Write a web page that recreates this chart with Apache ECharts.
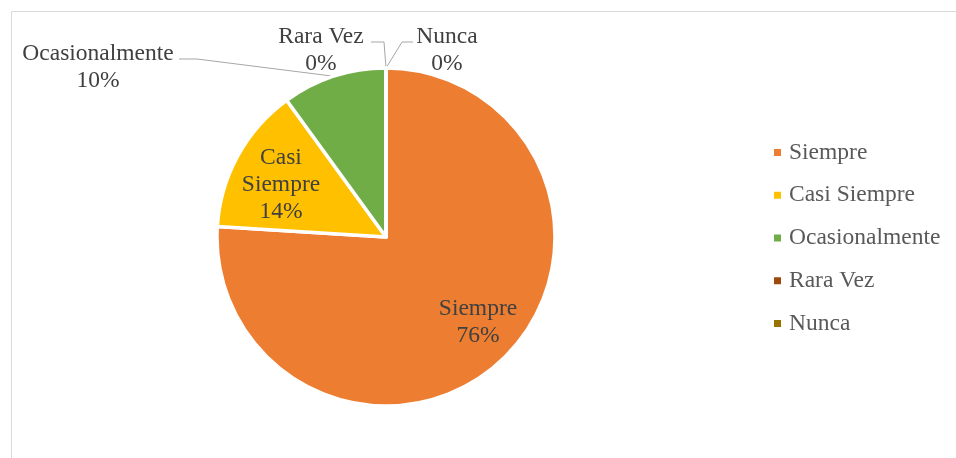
<!DOCTYPE html>
<html>
<head>
<meta charset="utf-8">
<script src="https://cdn.jsdelivr.net/npm/echarts@6/dist/echarts.min.js"></script>
<style>
  html, body { margin: 0; padding: 0; background: #fff; }
  #chart { width: 956px; height: 458px; }
</style>
</head>
<body>
<div id="chart"></div>
<script>
// Datos de la gráfica
const categories = ['Siempre', 'Casi Siempre', 'Ocasionalmente', 'Rara Vez', 'Nunca'];
const percents = [76, 14, 10, 0, 0];
const colors = ['#ED7D31', '#FFC000', '#70AD47', '#9E480E', '#997300'];
const insideLabel = [true, true, false, false, false];

// Posición de las etiquetas (centro del bloque de texto)
const labelPos = {
  'Siempre': [478, 322],
  'Casi Siempre': [281, 185],
  'Ocasionalmente': [98, 67],
  'Rara Vez': [321, 50],
  'Nunca': [447, 50]
};
// Quiebre de las líneas guía de las etiquetas externas
const lineBend = {
  'Ocasionalmente': [[197, 59], [179, 59]],
  'Rara Vez': [[384, 42], [371, 42]],
  'Nunca': [[402, 42], [413, 42]]
};

const font = "'Liberation Serif', 'Times New Roman', serif";
const chart = echarts.init(document.getElementById('chart'));

const option = {
  animation: false,
  // Borde del área del gráfico
  graphic: [{
    type: 'rect',
    shape: { x: 11.5, y: 11.5, width: 1200, height: 1000 },
    style: { fill: 'none', stroke: '#D9D9D9', lineWidth: 1 },
    silent: true
  }],
  legend: {
    data: categories,
    orient: 'vertical',
    left: 774,
    top: 140.5,
    padding: 0,
    icon: 'rect',
    itemWidth: 7,
    itemHeight: 7,
    itemGap: 18.75,
    itemStyle: { borderWidth: 0 },
    textStyle: {
      fontFamily: font,
      fontSize: 23.5,
      color: '#595959',
      lineHeight: 24,
      padding: [0, 0, 0, 3]
    }
  },
  series: [{
    type: 'pie',
    center: [386, 237],
    radius: 169,
    startAngle: 90,
    clockwise: true,
    avoidLabelOverlap: false,
    itemStyle: { borderColor: '#fff', borderWidth: 3.5 },
    emphasis: { scale: false },
    label: {
      show: true,
      position: 'outside',
      fontFamily: font,
      fontSize: 23.5,
      lineHeight: 27,
      color: '#404040',
      formatter: function (p) {
        const name = p.name === 'Casi Siempre' ? 'Casi\nSiempre' : p.name;
        return name + '\n' + Math.round(p.percent) + '%';
      }
    },
    labelLine: {
      show: true,
      length: 20,
      length2: 12,
      lineStyle: { color: '#A6A6A6', width: 1 }
    },
    labelLayout: function (params) {
      const name = categories[params.dataIndex];
      const pos = labelPos[name];
      const out = { x: pos[0], y: pos[1], align: 'center', verticalAlign: 'middle' };
      const bend = lineBend[name];
      if (bend && params.labelLinePoints) {
        out.labelLinePoints = [params.labelLinePoints[0], bend[0], bend[1]];
      }
      return out;
    },
    data: categories.map(function (name, i) {
      return {
        name: name,
        value: percents[i],
        itemStyle: { color: colors[i] },
        labelLine: { show: !insideLabel[i] }
      };
    })
  }]
};

chart.setOption(option);
</script>
</body>
</html>
